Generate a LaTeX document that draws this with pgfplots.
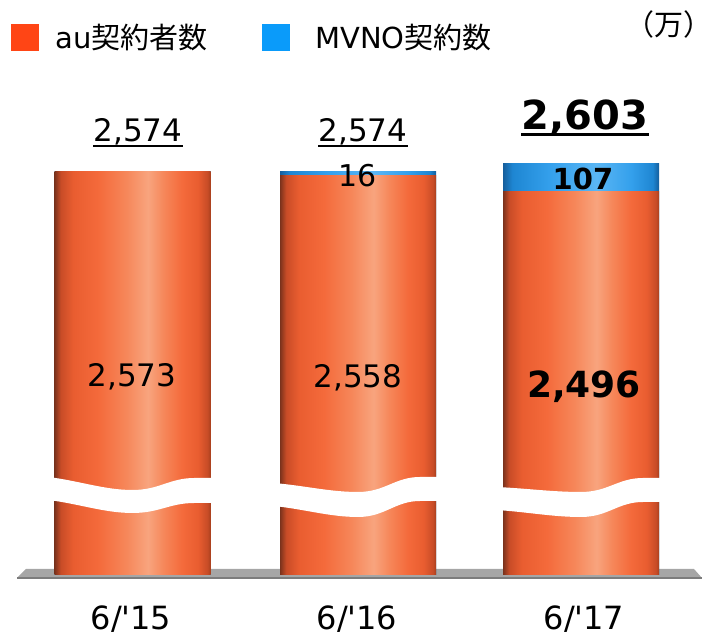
\documentclass[border=0pt]{standalone}
\usepackage{fontspec}
\setmainfont{DejaVu Sans}[Ligatures=TeXOff]
\newfontfamily\cjk{Noto Sans CJK JP}
\usepackage{pgfplots}
\usepackage{pgfplotstable}
\pgfplotsset{compat=1.18}

\definecolor{legor}{HTML}{FF4515}
\definecolor{legbl}{HTML}{0A9BFA}
\definecolor{orA}{HTML}{7A321C}
\definecolor{orB}{HTML}{C84C27}
\definecolor{orC}{HTML}{E95D30}
\definecolor{orD}{HTML}{F46A3B}
\definecolor{orE}{HTML}{F6875A}
\definecolor{orF}{HTML}{F8A47E}
\definecolor{orG}{HTML}{A8401E}
\definecolor{blA}{HTML}{155E9C}
\definecolor{blB}{HTML}{1E86D2}
\definecolor{blC}{HTML}{34A0EC}
\definecolor{blD}{HTML}{5AB6F4}
\definecolor{plat}{HTML}{A6A6A6}
\definecolor{platd}{HTML}{7C7C7C}

% cylinder look, the bar covers 25bp..75bp
\pgfdeclarehorizontalshading{cylor}{100bp}{color(0bp)=(orA); color(25bp)=(orA);
  color(27bp)=(orB); color(31bp)=(orC); color(39bp)=(orD); color(48bp)=(orE);
  color(55bp)=(orF); color(60bp)=(orE); color(66bp)=(orD); color(71bp)=(orC);
  color(74bp)=(orB); color(75bp)=(orG); color(100bp)=(orG)}
\pgfdeclarehorizontalshading{cylbl}{100bp}{color(0bp)=(blA); color(25bp)=(blA);
  color(28bp)=(blB); color(40bp)=(blC); color(55bp)=(blD); color(66bp)=(blC);
  color(73bp)=(blB); color(75bp)=(blA); color(100bp)=(blA)}

% subscribers (10k), one table per date
\pgfplotstableread{
x     au    mvno
132.5 2573  1
}\ya
\pgfplotstableread{
x     au    mvno
358   2558  16
}\yb
\pgfplotstableread{
x     au    mvno
581   2496  107
}\yc

\tikzset{px/.style={yshift=318pt,x=0.5pt,y=-0.5pt}}

% white break: left x, top edge (left, mid, right), bottom edge (left, mid, right)
\newcommand\brk[7]{%
  \fill[white] (#1-6,#2) .. controls (#1+25,{#2+(#3-#2)*0.3}) and (#1+50,#3) .. (#1+78,#3)
    .. controls (#1+105,#3) and (#1+115,#4) .. (#1+140,#4) -- (#1+164,#4)
    -- (#1+164,#7) -- (#1+140,#7)
    .. controls (#1+115,#7) and (#1+105,#6) .. (#1+78,#6)
    .. controls (#1+50,#6) and (#1+25,{#5+(#6-#5)*0.3}) .. (#1-6,#5) -- cycle;}

% one bar per plot so that each gets its own shading
\newcommand\cyl[1]{%
  \addplot[draw=none,shading=cylbl] table[x=x,y expr=\thisrow{au}+\thisrow{mvno}-1000]{#1};
  \addplot[draw=none,shading=cylor] table[x=x,y expr=\thisrow{au}-1000]{#1};}

\begin{document}
\begin{tikzpicture}
\useasboundingbox (0,0) rectangle (354pt,318pt);
\begin{scope}[px]
  \fill[plat] (17,578) -- (26,569) -- (694,569) -- (702,578) -- cycle;
  \draw[platd,line width=1pt] (17,578) -- (702,578);
\end{scope}
\begin{axis}[
    scale only axis,width=354pt,height=318pt,
    xmin=0,xmax=708,ymin=-237.9,ymax=2242.5,
    hide axis,clip=false,
    ybar,bar width=156,bar shift=0pt
]
    \cyl{\ya}
    \cyl{\yb}
    \cyl{\yc}
\end{axis}
\begin{scope}[px]
  \brk{54.5}{477}{490}{478}{500}{513}{503}
  \brk{280}{483}{492}{477}{506}{517}{501}
  \brk{503}{487}{492}{478}{510}{517}{502}

  % legend
  \fill[legor] (11,24) rectangle (39,51);
  \node[anchor=west,inner sep=0,font=\fontsize{14.5}{16}\selectfont] at (55,38) {au{\cjk 契約者数}};
  \fill[legbl] (262,24) rectangle (290,51);
  \node[anchor=west,inner sep=0,font=\fontsize{14.5}{16}\selectfont] at (315,38) {MVNO{\cjk 契約数}};
  \node[anchor=east,inner sep=0,font=\fontsize{14.5}{16}\selectfont\cjk] at (698,24) {（万）\kern-0.5em};

  % totals
  \node[anchor=base,inner sep=0,font=\fontsize{15.5}{18}\selectfont] (t1) at (138,142) {2,574};
  \draw[line width=1pt] ([yshift=-2pt]t1.base west) -- ([yshift=-2pt]t1.base east);
  \node[anchor=base,inner sep=0,font=\fontsize{15.5}{18}\selectfont] (t2) at (363,142) {2,574};
  \draw[line width=1pt] ([yshift=-2pt]t2.base west) -- ([yshift=-2pt]t2.base east);
  \node[anchor=base,inner sep=0,font=\fontsize{20}{24}\selectfont\bfseries] (t3) at (585,130) {2,603};
  \draw[line width=1.6pt] ([yshift=-2.2pt]t3.base west) -- ([yshift=-2.2pt]t3.base east);

  % MVNO
  \node[anchor=base,inner sep=0,font=\fontsize{15}{18}\selectfont] at (358,187) {16};
  \node[anchor=base,inner sep=0,font=\fontsize{14.5}{17}\selectfont\bfseries] at (583,190) {107};

  % au
  \node[anchor=base,inner sep=0,font=\fontsize{15.5}{18}\selectfont] at (132,387) {2,573};
  \node[anchor=base,inner sep=0,font=\fontsize{15.5}{18}\selectfont] at (358,388) {2,558};
  \node[anchor=base,inner sep=0,font=\fontsize{18}{21}\selectfont\bfseries] at (584,398) {2,496};

  % categories
  \node[anchor=base,inner sep=0,font=\fontsize{16}{19}\selectfont] at (131,630) {6/'15};
  \node[anchor=base,inner sep=0,font=\fontsize{16}{19}\selectfont] at (357,630) {6/'16};
  \node[anchor=base,inner sep=0,font=\fontsize{16}{19}\selectfont] at (584,630) {6/'17};
\end{scope}
\end{tikzpicture}
\end{document}
